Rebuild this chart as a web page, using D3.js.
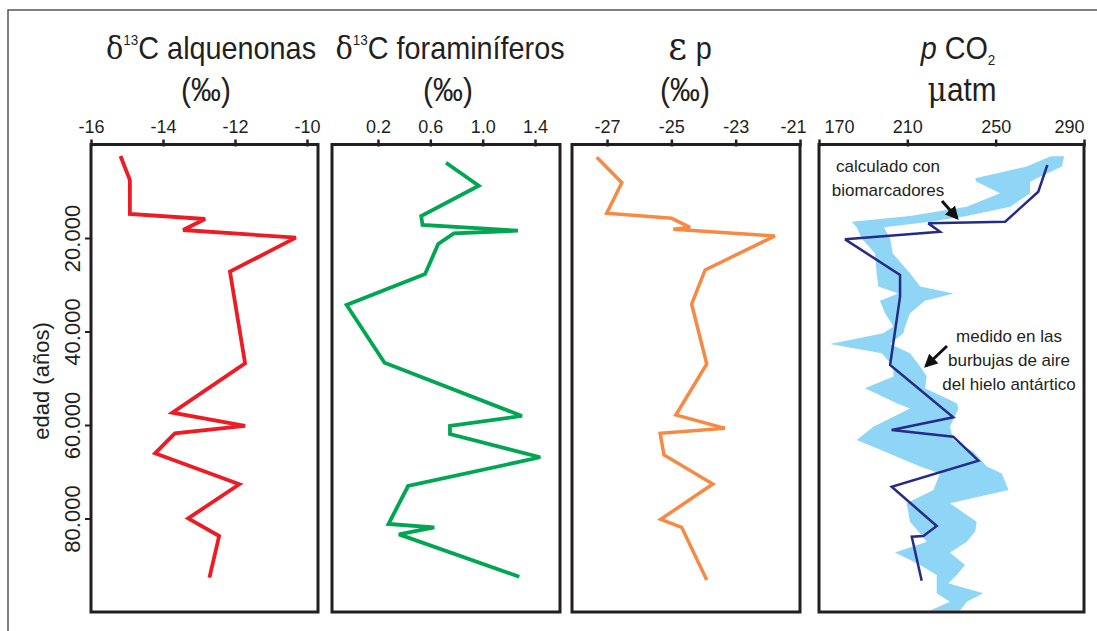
<!DOCTYPE html>
<html>
<head>
<meta charset="utf-8">
<script src="https://cdn.jsdelivr.net/npm/d3@7"></script>
<style>
  body { margin: 0; background: #fff; }
  text { font-family: "Liberation Sans", Arial, sans-serif; fill: #231f20; }
  .greek { font-family: "DejaVu Serif", "Liberation Serif", serif; }
</style>
</head>
<body>
<div id="graph"></div>
<script>
// edad (años) de cada muestra y valor medido
const alqAges = [2460, 7600, 14870, 15940, 18290, 19930, 27200, 46800, 57370, 60200, 61780, 66060, 72680, 79960, 83740, 92660];
const alqD13C = [-15.18, -14.92, -14.92, -12.83, -13.44, -10.31, -12.14, -11.72, -13.74, -11.72, -13.67, -14.22, -11.88, -13.30, -12.44, -12.71];

const foraAges = [3890, 8810, 15290, 17220, 18430, 19000, 21280, 27700, 34330, 46670, 58070, 60200, 61920, 66900, 73050, 81180, 81890, 83390, 92450];
const foraD13C = [0.72, 0.97, 0.53, 0.54, 1.27, 0.78, 0.66, 0.56, -0.04, 0.25, 1.30, 0.75, 0.75, 1.44, 0.43, 0.28, 0.63, 0.36, 1.28];

const epAges = [2740, 8170, 14720, 15790, 17710, 18140, 19570, 26840, 34120, 46950, 57860, 60710, 61780, 66420, 72620, 80170, 81890, 93160];
const epValues = [-27.32, -26.54, -27.01, -24.99, -24.42, -24.94, -21.78, -23.95, -24.37, -23.90, -24.86, -23.33, -25.35, -25.23, -23.71, -25.33, -24.68, -23.90];

const co2Ages = [4380, 10100, 16510, 16870, 18650, 20290, 27900, 32550, 47170, 58350, 61070, 62500, 67630, 73200, 81600, 83740, 83890, 93300];
const co2Values = [273.4, 269.3, 254.3, 219.5, 224.8, 181.8, 206.7, 206.7, 202.2, 230.8, 202.9, 230.8, 242.2, 202.9, 223.3, 217.3, 212.0, 216.5];

// banda del hielo antártico: edad, minimo, maximo
const iceAges = [2500, 4700, 7200, 7950, 10450, 13300, 15300, 16500, 17700, 20100, 23300, 27550, 30400, 31850, 33400, 36100, 38950, 40400, 42650, 44650, 47500, 49650, 52150, 55350, 56450, 60350, 63200, 65700, 68900, 70350, 73900, 76750, 80700, 82800, 84950, 87250, 89950, 92100, 93850, 96000, 97800, 99700];
const iceLow = [275, 264, 240.7, 241.4, 252, 236.9, 211.2, 184.8, 187.1, 189.3, 195.4, 196.1, 196.9, 205.9, 197.6, 199.9, 203.7, 199.1, 175, 198.4, 203.7, 203.7, 190.8, 205.2, 211.2, 194.6, 187.1, 199.9, 215.8, 224.8, 221.8, 209.7, 211.2, 215, 218.8, 204.4, 215.8, 223.3, 223.3, 223.3, 229.3, 220.3];
const iceHigh = [281, 280, 268.6, 265.6, 265.6, 256.5, 236.9, 220.3, 199.4, 202.2, 203.4, 211.2, 215.8, 230.9, 218, 211.2, 209, 208.2, 202.2, 211.2, 215.8, 218.8, 218, 232.4, 233.1, 229.3, 230.9, 239.9, 246, 252.8, 255.8, 229.3, 241.4, 240.7, 236.9, 229.3, 236.1, 232.4, 228.6, 244.4, 236.9, 233.9];

const alqTicks = [-16, -14, -12, -10];
const foraTicks = [0.2, 0.6, 1.0, 1.4];
const epTicks = [-27, -25, -23, -21];
const co2Ticks = [170, 210, 250, 290];
const ageTicks = [20000, 40000, 60000, 80000];

const width = 1097;
const height = 631;
const plotTop = 144.5, plotBottom = 612;

const svg = d3.select("#graph")
    .append("svg")
    .attr("width", width)
    .attr("height", height);

// marco exterior
svg.append("path")
    .attr("d", `M8,${height + 2} V10 H${width + 2}`)
    .attr("fill", "none")
    .attr("stroke", "#555")
    .attr("stroke-width", 1.5);

const y = d3.scaleLinear().domain([0, 100000]).range([plotTop, plotBottom]);
const es = d3.formatLocale({ decimal: ",", thousands: ".", grouping: [3], currency: ["", ""] });

const panels = [
    { left: 91, right: 318, domain: [-16, -9.694], ticks: alqTicks, fmt: d3.format("d") },
    { left: 332, right: 560, domain: [-0.1516, 1.591], ticks: foraTicks, fmt: d3.format(".1f") },
    { left: 572, right: 800, domain: [-28.09, -21], ticks: epTicks, fmt: d3.format("d") },
    { left: 819, right: 1084, domain: [170, 290], ticks: co2Ticks, fmt: d3.format("d") }
];
panels.forEach(p => {
    p.x = d3.scaleLinear().domain(p.domain).range([p.left, p.right]);
});

function minus(s) { return s.replace("−", "-"); }

function topAxis(p, i) {
    const g = svg.append("g")
        .attr("transform", `translate(0, ${plotTop + 2})`)
        .call(d3.axisTop(p.x).tickValues(p.ticks).tickSize(7).tickPadding(7).tickFormat(d => minus(p.fmt(d))));
    g.select(".domain").remove();
    g.selectAll(".tick line").attr("stroke", "#231f20").attr("stroke-width", 2.5);
    g.selectAll(".tick text")
        .attr("font-size", "18px")
        .attr("font-family", "Liberation Sans, Arial, sans-serif")
        .attr("fill", "#231f20");
    if (i === 2) {
        g.selectAll(".tick text").filter(d => d === -21).attr("dx", -7);
    }
    if (i === 3) {
        g.selectAll(".tick text").filter(d => d === 170).attr("dx", 20);
        g.selectAll(".tick text").filter(d => d === 290).attr("dx", -15);
    }
}

panels.forEach((p, i) => topAxis(p, i));

// eje de edad
const yAxis = svg.append("g")
    .attr("transform", `translate(${panels[0].left}, 0)`)
    .call(d3.axisLeft(y).tickValues(ageTicks).tickSize(6).tickFormat(d => es.format(",d")(d)));
yAxis.select(".domain").remove();
yAxis.selectAll(".tick line").attr("stroke", "#231f20").attr("stroke-width", 2);
yAxis.selectAll(".tick text")
    .attr("font-size", "22px")
    .attr("fill", "#231f20")
    .attr("text-anchor", "middle")
    .attr("x", 0).attr("dy", 0)
    .attr("transform", "translate(-11, 0) rotate(-90)");

svg.append("text")
    .attr("transform", `translate(49, 381) rotate(-90)`)
    .attr("text-anchor", "middle")
    .attr("font-size", "22px")
    .text("edad (años)");

// banda medida en el hielo
const p4 = panels[3];
svg.append("clipPath").attr("id", "clip4")
    .append("rect").attr("x", p4.left).attr("y", plotTop).attr("width", p4.right - p4.left).attr("height", plotBottom - plotTop);

const iceData = iceAges.map((a, i) => ({ age: a, lo: iceLow[i], hi: iceHigh[i] }));
svg.append("path")
    .datum(iceData)
    .attr("clip-path", "url(#clip4)")
    .attr("fill", "#8fd5f5")
    .attr("d", d3.area().y(d => y(d.age)).x0(d => p4.x(d.lo)).x1(d => p4.x(d.hi)));

function drawLine(p, ages, values, color, w) {
    const data = ages.map((a, i) => ({ age: a, v: values[i] }));
    svg.append("path")
        .datum(data)
        .attr("fill", "none")
        .attr("stroke", color)
        .attr("stroke-width", w)
        .attr("stroke-linejoin", "miter")
        .attr("stroke-miterlimit", 3)
        .attr("d", d3.line().x(d => p.x(d.v)).y(d => y(d.age)));
}

drawLine(panels[0], alqAges, alqD13C, "#ed1c24", 3.8);
drawLine(panels[1], foraAges, foraD13C, "#00a651", 3.8);
drawLine(panels[2], epAges, epValues, "#f68a45", 3.5);
drawLine(panels[3], co2Ages, co2Values, "#262a88", 2.5);

// marcos de los paneles
panels.forEach(p => {
    svg.append("rect")
        .attr("x", p.left).attr("y", plotTop)
        .attr("width", p.right - p.left).attr("height", plotBottom - plotTop)
        .attr("fill", "none")
        .attr("stroke", "#231f20")
        .attr("stroke-width", 3);
});

// titulos (letra algo estrecha, como en el original)
function title(cx, parts, yy, size, sx) {
    const t = svg.append("text")
        .attr("transform", `translate(${cx}, ${yy}) scale(${sx}, 1)`)
        .attr("text-anchor", "middle")
        .attr("font-size", size + "px");
    parts.forEach(pt => {
        const s = t.append("tspan").text(pt.t);
        if (pt.cls) s.attr("class", pt.cls);
        if (pt.size) s.attr("font-size", pt.size);
        if (pt.dy) s.attr("dy", pt.dy);
        if (pt.dx) s.attr("dx", pt.dx);
        if (pt.italic) s.attr("font-style", "italic");
    });
}

title(211, [{ t: "δ", cls: "greek" }, { t: "13", size: "15px", dy: -14 }, { t: "C alquenonas", dy: 14 }], 59, 32, 0.9);
title(450, [{ t: "δ", cls: "greek" }, { t: "13", size: "15px", dy: -14 }, { t: "C foraminíferos", dy: 14 }], 59, 32, 0.9);
title(690, [{ t: "ε", cls: "greek", size: "40px" }, { t: "p", dx: 10 }], 59, 32, 0.9);
title(958, [{ t: "p", italic: true }, { t: " CO" }, { t: "2", size: "15px", dy: 6 }], 59, 32, 0.9);

title(206, [{ t: "(‰)" }], 101, 34, 0.88);
title(448, [{ t: "(‰)" }], 101, 34, 0.88);
title(685, [{ t: "(‰)" }], 101, 34, 0.88);
title(962, [{ t: "μ", cls: "greek" }, { t: "atm" }], 101, 33, 0.9);

// anotaciones
svg.append("defs").append("marker")
    .attr("id", "head")
    .attr("viewBox", "0 0 10 10")
    .attr("refX", 8).attr("refY", 5)
    .attr("markerWidth", 4.5).attr("markerHeight", 4.5)
    .attr("orient", "auto")
    .append("path").attr("d", "M0,0 L10,5 L0,10 Z").attr("fill", "#111");

function note(cx, lines, y0, step) {
    lines.forEach((l, i) => {
        svg.append("text")
            .attr("x", cx).attr("y", y0 + i * step)
            .attr("text-anchor", "middle")
            .attr("font-size", "17px")
            .text(l);
    });
}

note(888, ["calculado con", "biomarcadores"], 172, 24);
note(1009, ["medido en las", "burbujas de aire", "del hielo antártico"], 342, 24);

function arrow(x1, y1, x2, y2) {
    svg.append("line")
        .attr("x1", x1).attr("y1", y1).attr("x2", x2).attr("y2", y2)
        .attr("stroke", "#111").attr("stroke-width", 3)
        .attr("marker-end", "url(#head)");
}
arrow(942, 201, 957, 218);
arrow(947, 346, 926, 366);
</script>
</body>
</html>
